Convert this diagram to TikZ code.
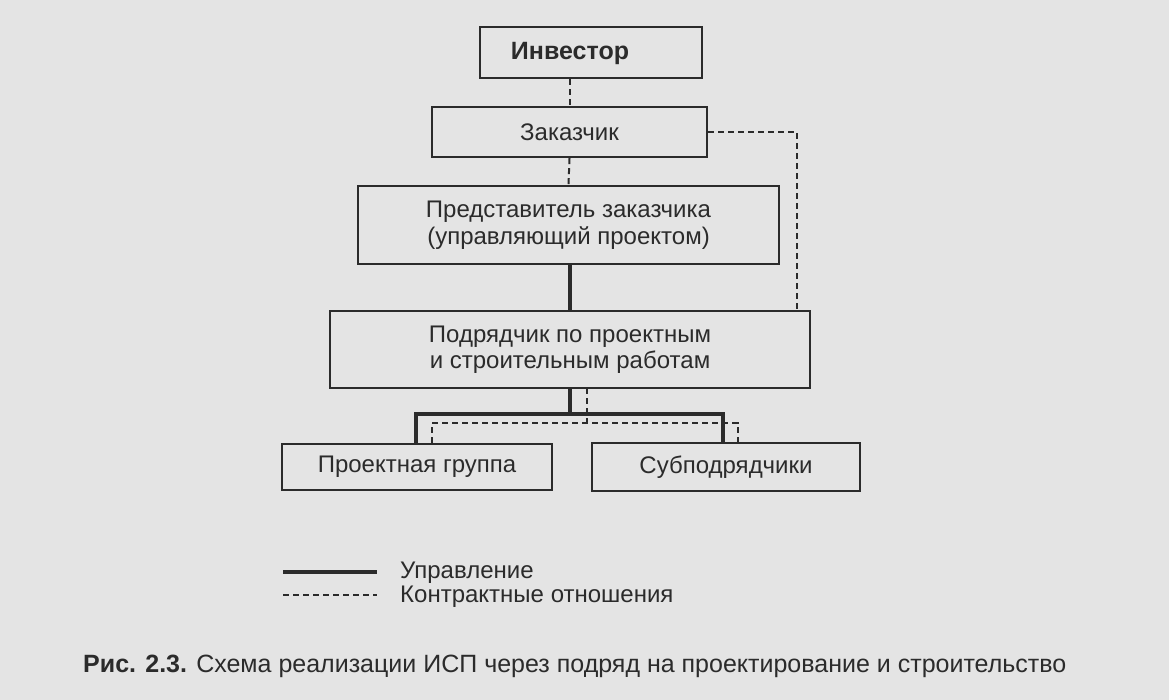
\documentclass[tikz,border=0pt]{standalone}
\usepackage{fontspec}
\setmainfont{Liberation Sans}
\definecolor{paper}{HTML}{E4E4E4}
\definecolor{ink}{HTML}{2B2B2B}
\begin{document}
\begin{tikzpicture}[x=1pt,y=-1pt,
  box/.style={draw=ink,line width=2.3pt,text=ink,align=center,inner sep=0pt,font=\fontsize{24}{26.5}\selectfont},
  ctrl/.style={draw=ink,line width=3.2pt},
  contract/.style={draw=ink,line width=2pt,dash pattern=on 6pt off 4pt},
  lbl/.style={text=ink,anchor=west,inner sep=0pt,font=\fontsize{24}{27}\selectfont}]
\fill[paper] (0,0) rectangle (1169,700);
\useasboundingbox (0,0) rectangle (1169,700);
% boxes
\node[box,minimum width=222pt,minimum height=51pt] (inv) at (591,52.5) {};
\node[text=ink,inner sep=0pt,font=\fontsize{25}{28}\selectfont\bfseries] (invt) at (570,53) {Инвестор};
\node[box,minimum width=275pt,minimum height=50pt] (zak) at (569.5,132) {Заказчик};
\node[box,minimum width=421pt,minimum height=78pt] (pred) at (568.5,225) {Представитель заказчика\\(управляющий проектом)};
\node[box,minimum width=480pt,minimum height=77pt] (pod) at (570,349.5) {Подрядчик по проектным\\и строительным работам};
\node[box,minimum width=270pt,minimum height=46pt] (pg) at (417,467) {Проектная группа};
\node[box,minimum width=268pt,minimum height=48pt] (sub) at (726,467) {Субподрядчики};
% helper coordinates
\coordinate (cr) at (797,132);
\coordinate (sL) at (416,414);
\coordinate (sR) at (723,414);
\coordinate (dL) at (432,423);
\coordinate (dR) at (738,423);
\coordinate (dT) at (587,388);
% connectors
\draw[contract] (zak.north |- inv.south) -- (zak.north);
\draw[contract] (zak.south) -- (pred.north);
\draw[contract] (zak.east) -- (cr) -- (cr |- pod.north);
\draw[ctrl] (pod.north |- pred.south) -- (pod.north);
\draw[ctrl] (pod.south) -- (pod.south |- sL);
\draw[ctrl] (sL |- pg.north) -- (sL) -- (sR) -- (sR |- sub.north);
\draw[contract] (dT) -- (dT |- dL);
\draw[contract] (dL |- pg.north) -- (dL) -- (dR) -- (dR |- sub.north);
% legend
\coordinate (l1a) at (283,572);
\coordinate (l1b) at (377,572);
\coordinate (l2a) at (283,595);
\coordinate (l2b) at (377,595);
\draw[ctrl] (l1a) -- (l1b);
\draw[contract] (l2a) -- (l2b);
\node[lbl] (leg1) at (400,573) {Управление};
\node[lbl] (leg2) at (400,597) {Контрактные отношения};
% caption
\node[lbl,font=\fontsize{25}{28}\selectfont] (cap) at (83,666) {\textbf{Рис. 2.3.} Схема реализации ИСП через подряд на проектирование и строительство};
\end{tikzpicture}
\end{document}
